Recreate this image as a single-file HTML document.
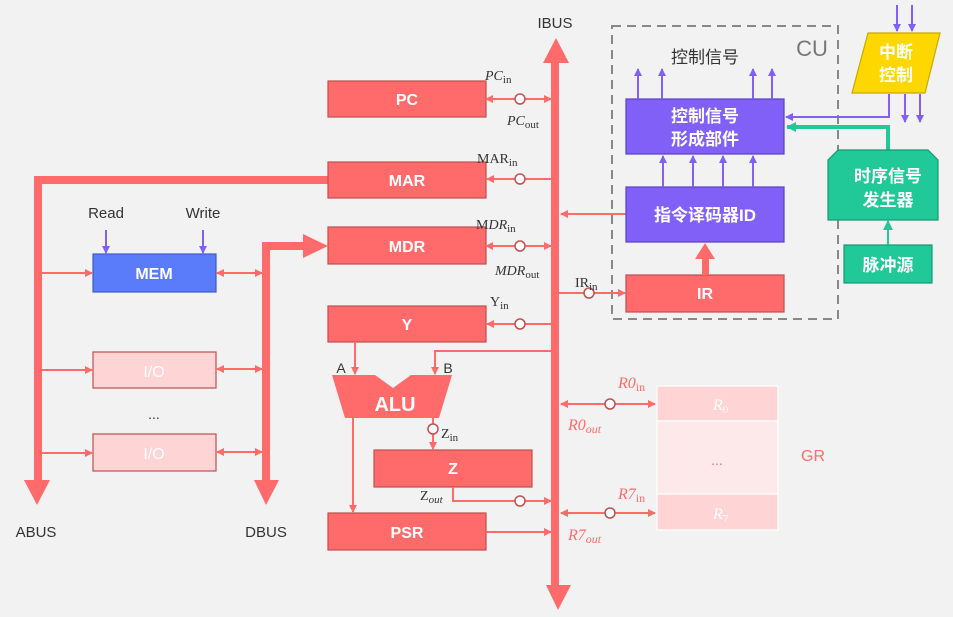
<!DOCTYPE html>
<html><head><meta charset="utf-8"><style>
html,body{margin:0;padding:0;background:#f2f2f2;}
svg{display:block;font-family:"Liberation Sans","Noto Sans CJK SC",sans-serif;}
.bx{stroke:#c0504d;stroke-width:1.2;}
.w{fill:#fff;font-weight:bold;font-size:16px;text-anchor:middle;}
.m{font-family:"Liberation Serif","DejaVu Serif",serif;font-size:14px;fill:#333;}
.r{font-family:"Liberation Serif","DejaVu Serif",serif;font-size:16px;fill:#ff6b6b;font-style:italic;}
</style></head><body>
<svg width="953" height="617" viewBox="0 0 953 617">
<defs>
<marker id="ar" markerWidth="8" markerHeight="8" refX="7" refY="4" orient="auto" markerUnits="userSpaceOnUse"><path d="M0,0 L8,4 L0,8 z" fill="#ff6b6b"/></marker>
<marker id="al" markerWidth="8" markerHeight="8" refX="1" refY="4" orient="auto" markerUnits="userSpaceOnUse"><path d="M8,0 L0,4 L8,8 z" fill="#ff6b6b"/></marker>
<marker id="ap" markerWidth="8" markerHeight="8" refX="7" refY="4" orient="auto" markerUnits="userSpaceOnUse"><path d="M0,0 L8,4 L0,8 z" fill="#8060f6"/></marker>
<marker id="ag" markerWidth="10" markerHeight="10" refX="9" refY="5" orient="auto" markerUnits="userSpaceOnUse"><path d="M0,0 L10,5 L0,10 z" fill="#20c997"/></marker>
</defs>
<rect width="953" height="617" fill="#f2f2f2"/>

<!-- IBUS -->
<text x="555" y="28" font-size="15" fill="#333" text-anchor="middle">IBUS</text>
<rect x="551" y="60" width="8" height="530" fill="#ff6b6b"/>
<path d="M543,63 L556,38 L569,63 z" fill="#ff6b6b"/>
<path d="M546,585 L571,585 L558,610 z" fill="#ff6b6b"/>

<!-- CU dashed -->
<rect x="612" y="26" width="226" height="293" fill="none" stroke="#888" stroke-width="2" stroke-dasharray="9,6"/>
<text x="812" y="56" font-size="22" fill="#777" text-anchor="middle">CU</text>
<text x="705" y="63" font-size="17" fill="#333" text-anchor="middle">控制信号</text>

<!-- ABUS -->
<polyline points="328,180 38,180 38,480" fill="none" stroke="#ff6b6b" stroke-width="8"/>
<path d="M24,480 L50,480 L37,505 z" fill="#ff6b6b"/>
<text x="36" y="537" font-size="15" fill="#333" text-anchor="middle">ABUS</text>
<!-- DBUS -->
<polyline points="266,480 266,246 305,246" fill="none" stroke="#ff6b6b" stroke-width="8"/>
<path d="M303,234 L328,246 L303,258 z" fill="#ff6b6b"/>
<path d="M254,480 L279,480 L266,505 z" fill="#ff6b6b"/>
<text x="266" y="537" font-size="15" fill="#333" text-anchor="middle">DBUS</text>

<!-- memory side -->
<text x="106" y="218" font-size="15" fill="#333" text-anchor="middle">Read</text>
<text x="203" y="218" font-size="15" fill="#333" text-anchor="middle">Write</text>
<line x1="106" y1="230" x2="106" y2="253" stroke="#8060f6" stroke-width="2" marker-end="url(#ap)"/>
<line x1="203" y1="230" x2="203" y2="253" stroke="#8060f6" stroke-width="2" marker-end="url(#ap)"/>
<rect x="93" y="254" width="123" height="38" fill="#5b7cfa" stroke="#3f5bc7" stroke-width="1.2"/>
<text x="154" y="279" class="w">MEM</text>
<rect x="93" y="352" width="123" height="36" fill="#fed4d4" class="bx"/>
<text x="154" y="377" class="w" style="font-weight:normal">I/O</text>
<text x="154" y="419" font-size="14" fill="#333" text-anchor="middle">...</text>
<rect x="93" y="434" width="123" height="37" fill="#fed4d4" class="bx"/>
<text x="154" y="459" class="w" style="font-weight:normal">I/O</text>
<g stroke="#ff6b6b" stroke-width="2" fill="none">
<line x1="40" y1="273" x2="92" y2="273" marker-end="url(#ar)"/>
<line x1="40" y1="370" x2="92" y2="370" marker-end="url(#ar)"/>
<line x1="40" y1="453" x2="92" y2="453" marker-end="url(#ar)"/>
<line x1="217" y1="273" x2="262" y2="273" marker-start="url(#al)" marker-end="url(#ar)"/>
<line x1="217" y1="369" x2="262" y2="369" marker-start="url(#al)" marker-end="url(#ar)"/>
<line x1="217" y1="452" x2="262" y2="452" marker-start="url(#al)" marker-end="url(#ar)"/>
</g>

<!-- registers -->
<g fill="#ff6b6b" class="bx">
<rect x="328" y="81" width="158" height="36"/>
<rect x="328" y="162" width="158" height="36"/>
<rect x="328" y="227" width="158" height="37"/>
<rect x="328" y="306" width="158" height="36"/>
<rect x="374" y="450" width="158" height="37"/>
<rect x="328" y="513" width="158" height="37"/>
<rect x="626" y="275" width="158" height="37"/>
</g>
<text x="407" y="105" class="w">PC</text>
<text x="407" y="186" class="w">MAR</text>
<text x="407" y="252" class="w">MDR</text>
<text x="407" y="330" class="w">Y</text>
<text x="453" y="474" class="w">Z</text>
<text x="407" y="538" class="w">PSR</text>
<text x="705" y="299" class="w">IR</text>

<!-- ALU -->
<path d="M332,375 L375,375 L393,388 L411,375 L452,375 L439,418 L345,418 z" fill="#ff6b6b"/>
<text x="395" y="411" class="w" style="font-size:20px">ALU</text>
<text x="341" y="373" font-size="14" fill="#333" text-anchor="middle">A</text>
<text x="448" y="373" font-size="14" fill="#333" text-anchor="middle">B</text>

<g stroke="#ff6b6b" stroke-width="2" fill="none">
<line x1="486" y1="99" x2="551" y2="99" marker-start="url(#al)" marker-end="url(#ar)"/>
<line x1="551" y1="179" x2="487" y2="179" marker-end="url(#ar)"/>
<line x1="486" y1="246" x2="551" y2="246" marker-start="url(#al)" marker-end="url(#ar)"/>
<line x1="551" y1="324" x2="487" y2="324" marker-end="url(#ar)"/>
<line x1="559" y1="293" x2="625" y2="293" marker-end="url(#ar)"/>
<line x1="626" y1="214" x2="561" y2="214" marker-end="url(#ar)"/>
<polyline points="551,351 435,351 435,374" marker-end="url(#ar)"/>
<line x1="355" y1="342" x2="355" y2="374" marker-end="url(#ar)"/>
<line x1="433" y1="418" x2="433" y2="449" marker-end="url(#ar)"/>
<line x1="353" y1="418" x2="353" y2="512" marker-end="url(#ar)"/>
<polyline points="453,487 453,501 551,501" marker-end="url(#ar)"/>
<line x1="486" y1="532" x2="551" y2="532" marker-end="url(#ar)"/>
<line x1="561" y1="404" x2="655" y2="404" marker-start="url(#al)" marker-end="url(#ar)"/>
<line x1="561" y1="513" x2="655" y2="513" marker-start="url(#al)" marker-end="url(#ar)"/>
</g>
<g fill="#fff" stroke="#c0504d" stroke-width="1.5">
<circle cx="520" cy="99" r="5"/><circle cx="520" cy="179" r="5"/><circle cx="520" cy="246" r="5"/>
<circle cx="520" cy="324" r="5"/><circle cx="589" cy="293" r="5"/><circle cx="433" cy="429" r="5"/>
<circle cx="520" cy="501" r="5"/><circle cx="610" cy="404" r="5"/><circle cx="610" cy="513" r="5"/>
</g>

<!-- labels -->
<text x="485" y="80" class="m" font-style="italic">PC<tspan font-size="11" dy="3" font-style="normal">in</tspan></text>
<text x="507" y="125" class="m" font-style="italic">PC<tspan font-size="11" dy="3" font-style="normal">out</tspan></text>
<text x="477" y="163" class="m">MAR<tspan font-size="11" dy="3">in</tspan></text>
<text x="476" y="229" class="m">M<tspan font-style="italic">DR</tspan><tspan font-size="11" dy="3">in</tspan></text>
<text x="495" y="275" class="m" font-style="italic">MDR<tspan font-size="11" dy="3" font-style="normal">out</tspan></text>
<text x="490" y="306" class="m">Y<tspan font-size="11" dy="3">in</tspan></text>
<text x="575" y="287" class="m">IR<tspan font-size="11" dy="3">in</tspan></text>
<text x="441" y="438" class="m">Z<tspan font-size="11" dy="3">in</tspan></text>
<text x="420" y="500" class="m">Z<tspan font-size="11" dy="3" font-style="italic">out</tspan></text>
<text x="618" y="388" class="r">R0<tspan font-size="12" dy="3" font-style="normal">in</tspan></text>
<text x="568" y="430" class="r">R0<tspan font-size="12" dy="3">out</tspan></text>
<text x="618" y="499" class="r">R7<tspan font-size="12" dy="3" font-style="normal">in</tspan></text>
<text x="568" y="540" class="r">R7<tspan font-size="12" dy="3">out</tspan></text>

<!-- GR -->
<rect x="657" y="386" width="121" height="35" fill="#fed4d4" stroke="#fff" stroke-width="1.2"/>
<rect x="657" y="421" width="121" height="73" fill="#fde9e9" stroke="#fff" stroke-width="1.2"/>
<rect x="657" y="494" width="121" height="36" fill="#fed4d4" stroke="#fff" stroke-width="1.2"/>
<text x="713" y="410" font-family="Liberation Serif,serif" font-style="italic" font-size="16" fill="#fff">R<tspan font-size="11" dy="3" font-style="normal">0</tspan></text>
<text x="717" y="465" font-size="14" fill="#ff6b6b" text-anchor="middle">...</text>
<text x="713" y="519" font-family="Liberation Serif,serif" font-style="italic" font-size="16" fill="#fff">R<tspan font-size="11" dy="3" font-style="normal">7</tspan></text>
<text x="813" y="461" font-size="16" fill="#ff6b6b" text-anchor="middle">GR</text>

<!-- CU internals -->
<rect x="626" y="99" width="158" height="55" fill="#8060f6" stroke="#5a3fc7" stroke-width="1.2"/>
<text x="705" y="122" class="w" style="font-size:17px">控制信号</text>
<text x="705" y="145" class="w" style="font-size:17px">形成部件</text>
<rect x="626" y="187" width="158" height="55" fill="#8060f6" stroke="#5a3fc7" stroke-width="1.2"/>
<text x="705" y="221" class="w" style="font-size:17px">指令译码器ID</text>
<g stroke="#8060f6" stroke-width="2">
<line x1="638" y1="99" x2="638" y2="69" marker-end="url(#ap)"/>
<line x1="662" y1="99" x2="662" y2="69" marker-end="url(#ap)"/>
<line x1="753" y1="99" x2="753" y2="69" marker-end="url(#ap)"/>
<line x1="772" y1="99" x2="772" y2="69" marker-end="url(#ap)"/>
<line x1="663" y1="187" x2="663" y2="156" marker-end="url(#ap)"/>
<line x1="693" y1="187" x2="693" y2="156" marker-end="url(#ap)"/>
<line x1="723" y1="187" x2="723" y2="156" marker-end="url(#ap)"/>
<line x1="753" y1="187" x2="753" y2="156" marker-end="url(#ap)"/>
<line x1="897" y1="5" x2="897" y2="31" marker-end="url(#ap)"/>
<line x1="912" y1="5" x2="912" y2="31" marker-end="url(#ap)"/>
<line x1="905" y1="94" x2="905" y2="122" marker-end="url(#ap)"/>
<line x1="920" y1="94" x2="920" y2="122" marker-end="url(#ap)"/>
<polyline points="889,94 889,117 786,117" fill="none" marker-end="url(#ap)"/>
</g>
<rect x="702" y="257" width="7" height="18" fill="#ff6b6b"/>
<path d="M695,259 L705,243 L715,259 z" fill="#ff6b6b"/>

<path d="M868,33 L940,33 L925,93 L852,93 z" fill="#ffd700" stroke="#c8a800" stroke-width="1.2"/>
<text x="896" y="58" class="w" style="font-size:17px">中断</text>
<text x="896" y="81" class="w" style="font-size:17px">控制</text>

<polyline points="888,150 888,127 787,127" fill="none" stroke="#20c997" stroke-width="4" marker-end="url(#ag)"/>
<path d="M838,150 L928,150 L938,160 L938,220 L828,220 L828,160 z" fill="#20c997" stroke="#159a73" stroke-width="1.2"/>
<text x="888" y="182" class="w" style="font-size:17px">时序信号</text>
<text x="888" y="206" class="w" style="font-size:17px">发生器</text>
<rect x="844" y="245" width="88" height="38" fill="#20c997" stroke="#159a73" stroke-width="1.2"/>
<text x="888" y="271" class="w" style="font-size:17px">脉冲源</text>
<line x1="888" y1="245" x2="888" y2="221" stroke="#20c997" stroke-width="2" marker-end="url(#ag)"/>
</svg>
</body></html>
